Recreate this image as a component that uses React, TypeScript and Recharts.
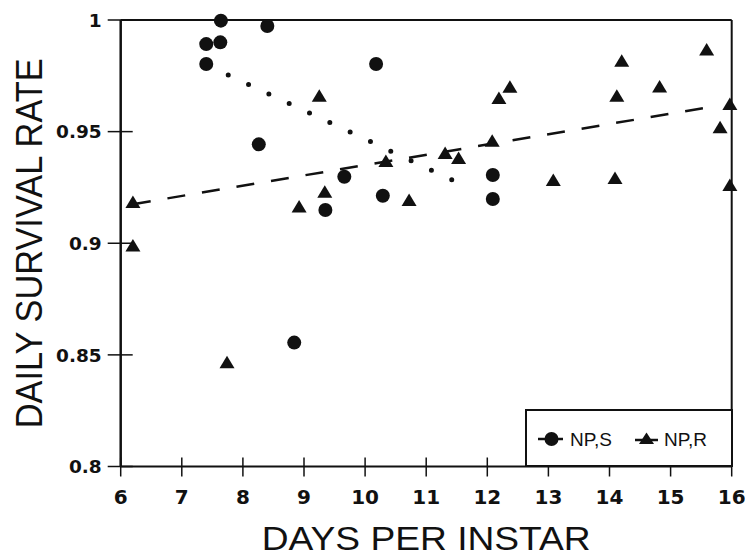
import React from 'react';
import { ScatterChart, Scatter, XAxis, YAxis, ReferenceLine, Legend, Label } from 'recharts';

// axis ticks
const xTicks = [6, 7, 8, 9, 10, 11, 12, 13, 14, 15, 16];
const yTicks = [0.8, 0.85, 0.9, 0.95, 1];

// NP,S (circles)
const npsX = [7.64, 8.4, 7.4, 7.63, 7.4, 10.18, 8.26, 9.66, 10.29, 9.35, 12.09, 12.09, 8.84];
const npsY = [0.9997, 0.9973, 0.9892, 0.99, 0.9803, 0.9803, 0.9443, 0.9298, 0.9213, 0.9149, 0.9306, 0.9198, 0.8555];

// NP,R (triangles)
const nprX = [6.2, 6.2, 7.74, 8.92, 9.25, 9.34, 10.34, 10.72, 11.31, 11.53, 12.08, 12.19, 12.37, 13.08, 14.09, 14.12, 14.2, 14.82, 15.59, 15.81, 15.97, 15.97];
const nprY = [0.918, 0.8985, 0.8462, 0.916, 0.9656, 0.9226, 0.9364, 0.9189, 0.94, 0.9377, 0.9455, 0.9646, 0.9697, 0.9279, 0.9288, 0.9656, 0.9813, 0.9698, 0.9863, 0.9515, 0.9619, 0.9256];

// fitted lines (end points)
const npsFitX = [7.76, 11.75];
const npsFitY = [0.9754, 0.9242];
const nprFitX = [6.2, 15.6];
const nprFitY = [0.9175, 0.9608];

const legendLabels = ['NP,S', 'NP,R'];

const toPoints = (xs: number[], ys: number[]) => xs.map((x, i) => ({ x, y: ys[i] }));

const INK = '#111';
const TICK_FONT = '"DejaVu Sans", Verdana, sans-serif';
const TITLE_FONT = '"Liberation Sans", Arial, Helvetica, sans-serif';

const Dot = (p: any) => <circle cx={p.cx} cy={p.cy} r={7} fill={INK} />;
const Tri = (p: any) => (
  <polygon points={`${p.cx},${p.cy - 7.5} ${p.cx + 7.5},${p.cy + 5} ${p.cx - 7.5},${p.cy + 5}`} fill={INK} />
);
const NoDot = () => <g />;

// ticks cross the axis line, so draw them ourselves
const YTick = ({ x, y, payload }: any) => {
  const ax = x + 13;
  return (
    <g>
      <line x1={ax - 13} x2={ax + 12} y1={y} y2={y} stroke={INK} strokeWidth={1.5} />
      <text x={ax - 19} y={y + 6.7} textAnchor="end" fontFamily={TICK_FONT} fontWeight="bold" fontSize={18.5} fill={INK}>
        {payload.value}
      </text>
    </g>
  );
};

const XTick = ({ x, y, payload }: any) => {
  const ay = y - 10;
  return (
    <g>
      <line x1={x} x2={x} y1={ay - 9} y2={ay + 10} stroke={INK} strokeWidth={1.5} />
      <text x={x} y={ay + 37} textAnchor="middle" fontFamily={TICK_FONT} fontWeight="bold" fontSize={20} fill={INK}>
        {payload.value}
      </text>
    </g>
  );
};

const YTitle = (props: any) => {
  const vb = props.viewBox || { x: 40.7, y: 20, width: 80, height: 446.5 };
  const cx = 29;
  const cy = vb.y + vb.height / 2;
  return (
    <text x={cx} y={cy} transform={`rotate(-90, ${cx}, ${cy})`} textAnchor="middle" dominantBaseline="central"
      fontFamily={TITLE_FONT} fontSize={37} fill={INK} textLength={370} lengthAdjust="spacingAndGlyphs">
      DAILY SURVIVAL RATE
    </text>
  );
};

const XTitle = (props: any) => {
  const vb = props.viewBox || { x: 120.7, y: 466.5, width: 611, height: 40 };
  return (
    <text x={vb.x + vb.width / 2} y={550} textAnchor="middle" fontFamily={TITLE_FONT} fontSize={34} fill={INK}
      textLength={329} lengthAdjust="spacingAndGlyphs">
      DAYS PER INSTAR
    </text>
  );
};

const LegendBox = () => (
  <svg width={208} height={58} style={{ display: 'block', overflow: 'visible' }}>
    <rect x={1} y={1} width={206} height={56} fill="#fff" stroke={INK} strokeWidth={2} />
    <line x1={13} x2={38} y1={30} y2={30} stroke={INK} strokeWidth={2.5} />
    <circle cx={26.5} cy={30} r={7} fill={INK} />
    <text x={45} y={36.5} fontFamily={TITLE_FONT} fontSize={19} fill={INK}>{legendLabels[0]}</text>
    <line x1={110} x2={133} y1={31} y2={31} stroke={INK} strokeWidth={2.5} />
    <polygon points="121.5,23.5 129,35 114,35" fill={INK} />
    <text x={139} y={36.5} fontFamily={TITLE_FONT} fontSize={19} fill={INK}>{legendLabels[1]}</text>
  </svg>
);

export default function App() {
  return (
    <div style={{ position: 'absolute', left: 0, top: 0, background: '#fff' }}>
      <ScatterChart width={745} height={556} margin={{ top: 20, right: 13.3, left: 40.7, bottom: 49.5 }}>
        <XAxis type="number" dataKey="x" domain={[6, 16]} ticks={xTicks} interval={0} tickSize={10} tickMargin={0}
          tickLine={false} tick={<XTick />} height={40} axisLine={{ stroke: INK, strokeWidth: 2 }}>
          <Label content={<XTitle />} />
        </XAxis>
        <YAxis type="number" dataKey="y" domain={[0.8, 1]} ticks={yTicks} interval={0} tickSize={13} tickMargin={0}
          tickLine={false} tick={<YTick />} width={80} axisLine={{ stroke: INK, strokeWidth: 2.5 }}>
          <Label content={<YTitle />} />
        </YAxis>
        <ReferenceLine y={1} stroke={INK} strokeWidth={2} />
        <ReferenceLine x={16} stroke={INK} strokeWidth={2} />
        <Scatter name="NP,S fit" data={toPoints(npsFitX, npsFitY)} shape={<NoDot />} legendType="none"
          line={{ stroke: INK, strokeWidth: 5, strokeDasharray: '0 22.44', strokeLinecap: 'round' }}
          isAnimationActive={false} />
        <Scatter name="NP,R fit" data={toPoints(nprFitX, nprFitY)} shape={<NoDot />} legendType="none"
          line={{ stroke: INK, strokeWidth: 2.5, strokeDasharray: '18 17' }} isAnimationActive={false} />
        <Scatter name={legendLabels[0]} data={toPoints(npsX, npsY)} shape={<Dot />} fill={INK} isAnimationActive={false} />
        <Scatter name={legendLabels[1]} data={toPoints(nprX, nprY)} shape={<Tri />} fill={INK} isAnimationActive={false} />
        <Legend layout="horizontal" verticalAlign="middle" align="center" content={<LegendBox />}
          wrapperStyle={{ left: 525, top: 409, width: 208, height: 58 }} />
      </ScatterChart>
    </div>
  );
}
